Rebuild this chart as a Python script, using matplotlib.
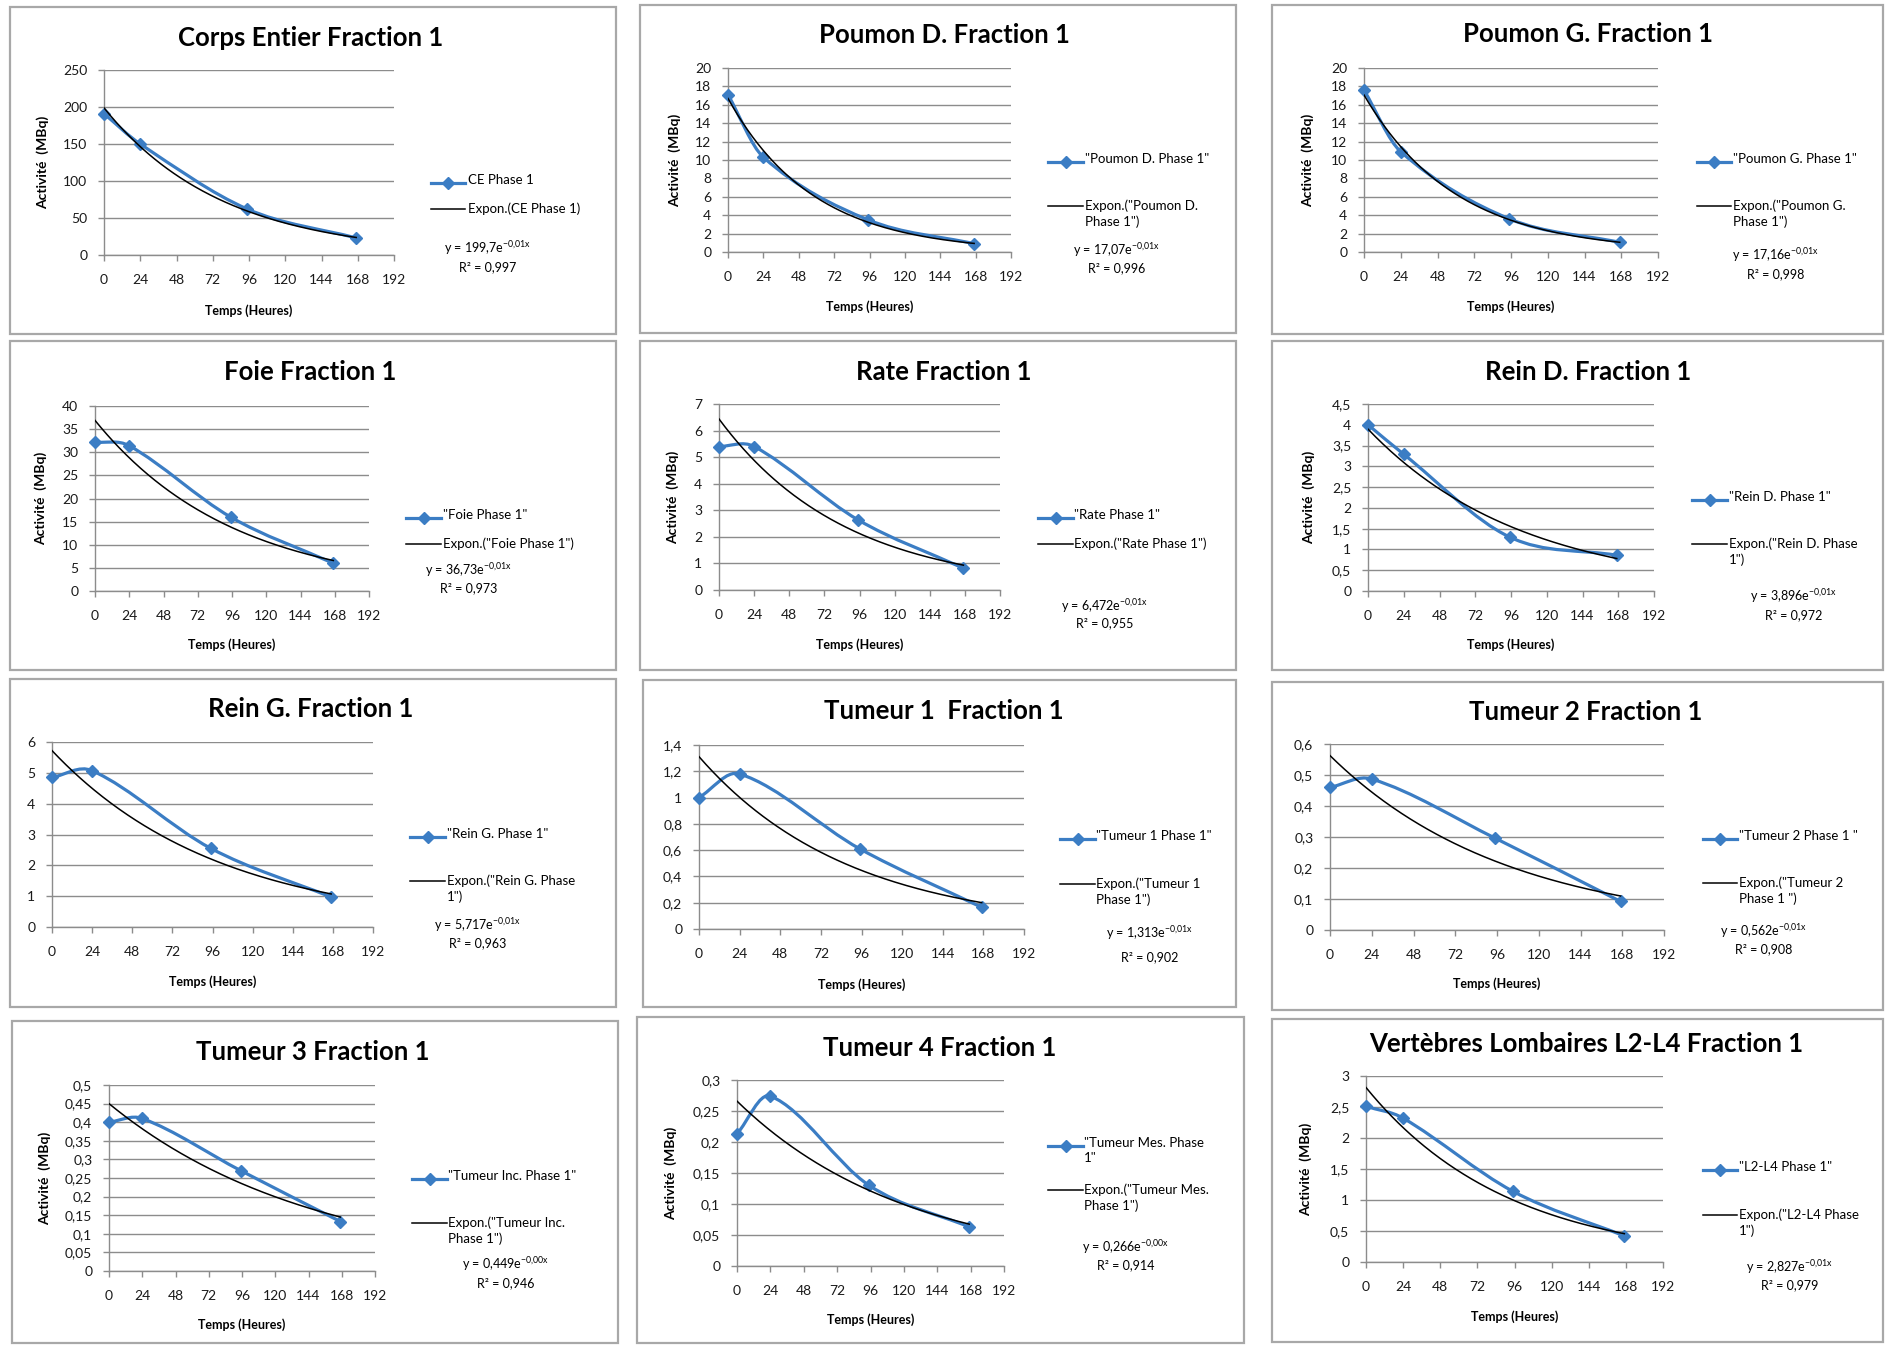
import numpy as np
import matplotlib
matplotlib.use("Agg")
import matplotlib.pyplot as plt
from matplotlib.path import Path
from matplotlib.patches import PathPatch, Rectangle
from matplotlib.lines import Line2D
from matplotlib.ticker import FixedLocator, FuncFormatter

plt.rcParams['font.family'] = ['Lato', 'DejaVu Sans']
plt.rcParams['mathtext.default'] = 'regular'

# Temps de mesure (heures)
t_heures = [0, 24, 95, 167]

# Activité (MBq) lue sur chaque graphique
corps_entier = [191, 150, 62, 23]
poumon_d = [17.1, 10.3, 3.5, 0.9]
poumon_g = [17.6, 10.9, 3.6, 1.05]
foie = [32.2, 31.4, 16.0, 6.0]
rate = [5.4, 5.4, 2.64, 0.82]
rein_d = [4.0, 3.29, 1.3, 0.86]
rein_g = [4.85, 5.07, 2.55, 0.97]
tumeur_1 = [1.0, 1.18, 0.61, 0.165]
tumeur_2 = [0.46, 0.487, 0.296, 0.092]
tumeur_3 = [0.40, 0.41, 0.27, 0.133]
tumeur_4 = [0.213, 0.274, 0.13, 0.063]
l2_l4 = [2.51, 2.32, 1.14, 0.42]

series = [corps_entier, poumon_d, poumon_g, foie, rate, rein_d,
          rein_g, tumeur_1, tumeur_2, tumeur_3, tumeur_4, l2_l4]

titres = ["Corps Entier Fraction 1", "Poumon D. Fraction 1", "Poumon G. Fraction 1",
          "Foie Fraction 1", "Rate Fraction 1", "Rein D. Fraction 1",
          "Rein G. Fraction 1", "Tumeur 1  Fraction 1", "Tumeur 2 Fraction 1",
          "Tumeur 3 Fraction 1", "Tumeur 4 Fraction 1", "Vertèbres Lombaires L2-L4 Fraction 1"]

noms_serie = ['CE Phase 1', '"Poumon D. Phase 1"', '"Poumon G. Phase 1"',
              '"Foie Phase 1"', '"Rate Phase 1"', '"Rein D. Phase 1"',
              '"Rein G. Phase 1"', '"Tumeur 1 Phase 1"', '"Tumeur 2 Phase 1 "',
              '"Tumeur Inc. Phase 1"', '"Tumeur Mes. Phase\n1"', '"L2-L4 Phase 1"']

noms_expon = ['Expon.(CE Phase 1)', 'Expon.("Poumon D.\nPhase 1")', 'Expon.("Poumon G.\nPhase 1")',
              'Expon.("Foie Phase 1")', 'Expon.("Rate Phase 1")', 'Expon.("Rein D. Phase\n1")',
              'Expon.("Rein G. Phase\n1")', 'Expon.("Tumeur 1\nPhase 1")', 'Expon.("Tumeur 2\nPhase 1 ")',
              'Expon.("Tumeur Inc.\nPhase 1")', 'Expon.("Tumeur Mes.\nPhase 1")', 'Expon.("L2-L4 Phase\n1")']

coef_a = ['199,7', '17,07', '17,16', '36,73', '6,472', '3,896',
          '5,717', '1,313', '0,562', '0,449', '0,266', '2,827']
coef_b = ['-0{,}01x', '-0{,}01x', '-0{,}01x', '-0{,}01x', '-0{,}01x', '-0{,}01x',
          '-0{,}01x', '-0{,}01x', '-0{,}01x', '-0{,}00x', '-0{,}00x', '-0{,}01x']
r_carre = ['0,997', '0,996', '0,998', '0,973', '0,955', '0,972',
           '0,963', '0,902', '0,908', '0,946', '0,914', '0,979']

y_max = [250, 20, 20, 40, 7, 4.5, 6, 1.4, 0.6, 0.5, 0.3, 3]
y_pas = [50, 2, 2, 5, 1, 0.5, 1, 0.2, 0.1, 0.05, 0.05, 0.5]
avec_ylabel = [True, True, True, True, True, True, False, False, False, True, True, True]

# positions en pixels (origine en haut à gauche)
boites = [(10, 7, 616, 334), (640, 5, 1236, 333), (1272, 5, 1883, 334),
          (10, 341, 616, 670), (640, 341, 1236, 670), (1272, 341, 1883, 670),
          (10, 679, 616, 1007), (643, 680, 1236, 1007), (1272, 682, 1883, 1010),
          (12, 1021, 618, 1343), (637, 1017, 1244, 1343), (1272, 1019, 1883, 1342)]
zones = [(104, 70, 394, 255), (728, 68, 1011, 252), (1364, 68, 1658, 252),
         (95, 406, 369, 591), (719, 404, 1000, 590), (1368, 404, 1654, 591),
         (52, 742, 373, 927), (699, 745, 1024, 929), (1330, 744, 1664, 930),
         (109, 1085, 375, 1271), (737, 1080, 1004, 1266), (1366, 1076, 1663, 1262)]
pos_titre = [(311, 38), (944, 35), (1588, 34), (310, 372), (944, 372), (1588, 372),
             (311, 709), (944, 711), (1586, 712), (313, 1052), (940, 1048), (1586, 1044)]
pos_ylabel = [43, 675, 1308, 41, 673, 1309, None, None, None, 45, 671, 1306]
pos_xlabel = [311, 307, 307, 645, 645, 645, 982, 985, 984, 1325, 1320, 1317]
legende = [(431, 465, 468, 183, 211), (1048, 1083, 1085, 162, 208), (1697, 1731, 1733, 162, 208),
           (406, 441, 443, 518, 546), (1038, 1073, 1074, 518, 546), (1692, 1727, 1729, 500, 546),
           (410, 445, 447, 837, 883), (1060, 1095, 1096, 839, 886), (1703, 1737, 1739, 839, 885),
           (412, 447, 448, 1179, 1225), (1048, 1083, 1084, 1146, 1192), (1703, 1737, 1739, 1170, 1217)]
pos_eq = [(488, 248, 267), (1117, 250, 268), (1776, 255, 274),
          (469, 570, 588), (1105, 606, 623), (1794, 596, 615),
          (478, 925, 943), (1150, 933, 957), (1764, 931, 949),
          (506, 1264, 1283), (1126, 1247, 1265), (1790, 1267, 1285)]

W, H = 1885, 1345
BLEU = '#3B7DC4'
GRIS = '#8C8C8C'


def fx(x):
    return x / W


def fy(y):
    return 1 - y / H


def chemin_lisse(x, y):
    # courbe lissée façon Excel : Hermite cubique, pentes par différences centrées
    x = np.asarray(x, dtype=float)
    y = np.asarray(y, dtype=float)
    n = len(x)
    pentes = np.empty(n)
    pentes[0] = (y[1] - y[0]) / (x[1] - x[0])
    pentes[-1] = (y[-1] - y[-2]) / (x[-1] - x[-2])
    pentes[1:-1] = (y[2:] - y[:-2]) / (x[2:] - x[:-2])
    verts = [(x[0], y[0])]
    codes = [Path.MOVETO]
    for i in range(n - 1):
        d = (x[i + 1] - x[i]) / 3
        verts += [(x[i] + d, y[i] + pentes[i] * d),
                  (x[i + 1] - d, y[i + 1] - pentes[i + 1] * d),
                  (x[i + 1], y[i + 1])]
        codes += [Path.CURVE4] * 3
    return Path(verts, codes)


def format_virgule(v, pos):
    return f"{round(v, 4):g}".replace('.', ',')


fig = plt.figure(figsize=(W / 100, H / 100), dpi=100)
fig.patch.set_facecolor('white')

t = np.array(t_heures, dtype=float)

for i, valeurs in enumerate(series):
    y = np.array(valeurs, dtype=float)

    # cadre du graphique
    bx0, by0, bx1, by1 = boites[i]
    fig.add_artist(Rectangle((fx(bx0), fy(by1)), (bx1 - bx0) / W, (by1 - by0) / H,
                             transform=fig.transFigure, fill=False,
                             edgecolor='#A8A8A8', linewidth=1.6))

    l, tp, r, b = zones[i]
    ax = fig.add_axes([fx(l), fy(b), (r - l) / W, (b - tp) / H])
    ax.set_facecolor('none')
    ax.set_xlim(0, 192)
    ax.set_ylim(0, y_max[i])
    ax.xaxis.set_major_locator(FixedLocator(np.arange(0, 193, 24)))
    ax.yaxis.set_major_locator(FixedLocator(np.arange(0, y_max[i] + y_pas[i] / 2, y_pas[i])))
    ax.yaxis.set_major_formatter(FuncFormatter(format_virgule))
    ax.grid(axis='y', color=GRIS, linewidth=1.0)
    ax.set_axisbelow(True)
    for s in ['top', 'right']:
        ax.spines[s].set_visible(False)
    for s in ['left', 'bottom']:
        ax.spines[s].set_color(GRIS)
        ax.spines[s].set_linewidth(1.0)
    ax.tick_params(axis='both', direction='out', length=4, width=1, color=GRIS,
                   labelsize=10, labelcolor='#1a1a1a')
    ax.tick_params(axis='x', pad=10)
    ax.tick_params(axis='y', pad=8)

    # série lissée + marqueurs
    ax.add_patch(PathPatch(chemin_lisse(t, y), facecolor='none', edgecolor=BLEU,
                           linewidth=2.3, zorder=3, clip_on=False))
    ax.plot(t, y, linestyle='none', marker='D', markersize=6.5, color=BLEU, zorder=4,
            clip_on=False)

    # courbe de tendance exponentielle (ajustement sur ln y)
    pente, orig = np.polyfit(t, np.log(y), 1)
    tt = np.linspace(t[0], t[-1], 200)
    ax.plot(tt, np.exp(orig) * np.exp(pente * tt), color='black', linewidth=1.1, zorder=5)

    # textes
    cx, cy = pos_titre[i]
    fig.text(fx(cx), fy(cy), titres[i], ha='center', va='center',
             fontsize=18.5, fontweight='bold')
    mid_x = (l + r) / 2
    fig.text(fx(mid_x), fy(pos_xlabel[i]), 'Temps (Heures)', ha='center', va='center',
             fontsize=9, fontweight='bold')
    if avec_ylabel[i]:
        fig.text(fx(pos_ylabel[i]), fy((tp + b) / 2), 'Activité  (MBq)', ha='center',
                 va='center', rotation=90, fontsize=10, fontweight='bold')

    # légende
    lx0, lx1, tx, y1, y2 = legende[i]
    fig.add_artist(Line2D([fx(lx0), fx(lx1)], [fy(y1), fy(y1)], transform=fig.transFigure,
                          color=BLEU, linewidth=2.3))
    fig.add_artist(Line2D([fx((lx0 + lx1) / 2)], [fy(y1)], transform=fig.transFigure,
                          marker='D', markersize=6.5, color=BLEU))
    fig.text(fx(tx), fy(y1 - 9), noms_serie[i], ha='left', va='top', fontsize=9.5,
             linespacing=1.35)
    fig.add_artist(Line2D([fx(lx0), fx(lx1)], [fy(y2 - 2), fy(y2 - 2)],
                          transform=fig.transFigure, color='black', linewidth=1.1))
    fig.text(fx(tx), fy(y2 - 9), noms_expon[i], ha='left', va='top', fontsize=9.5,
             linespacing=1.35)

    ex, ey, ry = pos_eq[i]
    fig.text(fx(ex), fy(ey), f"y = {coef_a[i]}e" + r"$^{" + coef_b[i] + "}$",
             ha='center', va='center', fontsize=9)
    fig.text(fx(ex), fy(ry), f"R² = {r_carre[i]}", ha='center', va='center', fontsize=9)

fig.savefig('out.png', dpi=100, facecolor='white')
